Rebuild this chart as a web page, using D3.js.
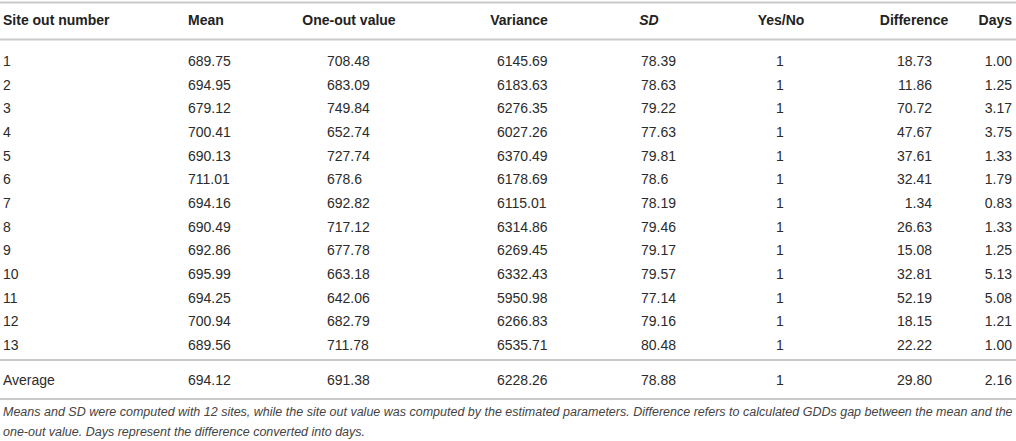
<!DOCTYPE html>
<html>
<head>
<meta charset="utf-8">
<script src="https://cdn.jsdelivr.net/npm/d3@7"></script>
<style>
  html, body { margin: 0; padding: 0; background: #fff; }
  svg { display: block; font-family: "Liberation Sans", Arial, Helvetica, sans-serif; }
  .hd { font-weight: bold; fill: #222; font-size: 14px; }
  .cell { fill: #2b2b2b; font-size: 14px; }
  .note { fill: #444; font-size: 12.5px; font-style: italic; }
  .rule { stroke: #c9c9c9; stroke-width: 2; }
</style>
</head>
<body>
<svg id="chart" width="1016" height="441"></svg>
<script>

var headers = ['Site out number', 'Mean', 'One-out value', 'Variance', 'SD', 'Yes/No', 'Difference', 'Days'];
var sites = ['1', '2', '3', '4', '5', '6', '7', '8', '9', '10', '11', '12', '13'];
var means = ['689.75', '694.95', '679.12', '700.41', '690.13', '711.01', '694.16', '690.49', '692.86', '695.99', '694.25', '700.94', '689.56'];
var oneOut = ['708.48', '683.09', '749.84', '652.74', '727.74', '678.6', '692.82', '717.12', '677.78', '663.18', '642.06', '682.79', '711.78'];
var variance = ['6145.69', '6183.63', '6276.35', '6027.26', '6370.49', '6178.69', '6115.01', '6314.86', '6269.45', '6332.43', '5950.98', '6266.83', '6535.71'];
var sd = ['78.39', '78.63', '79.22', '77.63', '79.81', '78.6', '78.19', '79.46', '79.17', '79.57', '77.14', '79.16', '80.48'];
var yesNo = ['1', '1', '1', '1', '1', '1', '1', '1', '1', '1', '1', '1', '1'];
var difference = ['18.73', '11.86', '70.72', '47.67', '37.61', '32.41', '1.34', '26.63', '15.08', '32.81', '52.19', '18.15', '22.22'];
var days = ['1.00', '1.25', '3.17', '3.75', '1.33', '1.79', '0.83', '1.33', '1.25', '5.13', '5.08', '1.21', '1.00'];
var average = ['Average', '694.12', '691.38', '6228.26', '78.88', '1', '29.80', '2.16'];
var notes = [
	'Means and SD were computed with 12 sites, while the site out value was computed by the estimated parameters. Difference refers to calculated GDDs gap between the mean and the',
	'one-out value. Days represent the difference converted into days.'
];

var svg = d3.select('#chart');

// column layout: header x/anchor, cell x/anchor
var cols = [
	{ hx: 3, ha: 'start', x: 3, a: 'start' },
	{ hx: 206, ha: 'middle', x: 188, a: 'start' },
	{ hx: 349, ha: 'middle', x: 327, a: 'start' },
	{ hx: 519, ha: 'middle', x: 497, a: 'start' },
	{ hx: 649, ha: 'middle', x: 641, a: 'start', italic: true },
	{ hx: 781, ha: 'middle', x: 780, a: 'middle' },
	{ hx: 914, ha: 'middle', x: 932, a: 'end' },
	{ hx: 1012, ha: 'end', x: 1012, a: 'end' }
];

var columns = [sites, means, oneOut, variance, sd, yesNo, difference, days];
var rows = sites.map(function(d, i) {
	return columns.map(function(c) { return c[i]; });
});

var y = d3.scalePoint().domain(sites).range([61, 345]);

// rules
var rules = [2.5, 39.5, 360, 399];
svg.selectAll('line.rule').data(rules).enter().append('line')
	.attr('class', 'rule')
	.attr('x1', 0).attr('x2', 1016)
	.attr('y1', function(d) { return d; }).attr('y2', function(d) { return d; });

// header
svg.selectAll('text.hd').data(headers).enter().append('text')
	.attr('class', 'hd')
	.attr('x', function(d, i) { return cols[i].hx; })
	.attr('y', 20)
	.attr('dy', '0.35em')
	.attr('text-anchor', function(d, i) { return cols[i].ha; })
	.style('font-style', function(d, i) { return cols[i].italic ? 'italic' : null; })
	.text(function(d) { return d; });

// body rows
var g = svg.selectAll('g.row').data(rows).enter().append('g')
	.attr('class', 'row')
	.attr('transform', function(d) { return 'translate(0,' + y(d[0]) + ')'; });

g.selectAll('text').data(function(d) { return d; }).enter().append('text')
	.attr('class', 'cell')
	.attr('x', function(d, i) { return cols[i].x; })
	.attr('dy', '0.35em')
	.attr('text-anchor', function(d, i) { return cols[i].a; })
	.text(function(d) { return d; });

// average row
svg.append('g').attr('transform', 'translate(0,380)')
	.selectAll('text').data(average).enter().append('text')
	.attr('class', 'cell')
	.attr('x', function(d, i) { return cols[i].x; })
	.attr('dy', '0.35em')
	.attr('text-anchor', function(d, i) { return cols[i].a; })
	.text(function(d) { return d; });

// footnote
svg.selectAll('text.note').data(notes).enter().append('text')
	.attr('class', 'note')
	.attr('x', 3)
	.attr('y', function(d, i) { return 412 + i * 20; })
	.attr('dy', '0.35em')
	.text(function(d) { return d; });

</script>
</body>
</html>
